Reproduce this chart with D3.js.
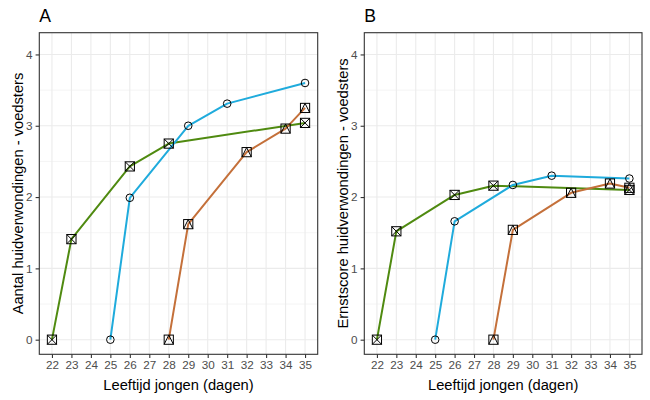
<!DOCTYPE html>
<html>
<head>
<meta charset="utf-8">
<script src="https://cdn.jsdelivr.net/npm/d3@7"></script>
<style>
  body { margin: 0; background: #fff; }
  svg { display: block; font-family: "Liberation Sans", Arial, sans-serif; }
</style>
</head>
<body>
<svg id="chart" width="650" height="400"></svg>
<script>
// ---- data ----
const xTicks = [22,23,24,25,26,27,28,29,30,31,32,33,34,35];
const yTicks = [0,1,2,3,4];
const panelTitles = ["A", "B"];
const yTitles = ["Aantal huidverwondingen - voedsters", "Ernstscore huidverwondingen - voedsters"];
const xTitle = "Leeftijd jongen (dagen)";

const greenDays  = [22,23,26,28,35];
const blueDays   = [25,26,29,31,35];
const orangeDays = [28,29,32,34,35];

const greenA  = [0, 1.41, 2.43, 2.75, 3.04];
const blueA   = [0, 1.99, 3.00, 3.31, 3.60];
const orangeA = [0, 1.62, 2.63, 2.96, 3.25];

const greenB  = [0, 1.52, 2.03, 2.16, 2.10];
const blueB   = [0, 1.66, 2.17, 2.30, 2.26];
const orangeB = [0, 1.54, 2.06, 2.19, 2.13];

const colors = { green: "#4f8a10", blue: "#1fabdc", orange: "#c4703a" };

const panels = [
  { title: panelTitles[0], yTitle: yTitles[0], left: 39.3, right: 317.7,
    series: [
      { key: "green", shape: "cross", days: greenDays, vals: greenA },
      { key: "blue", shape: "circle", days: blueDays, vals: blueA },
      { key: "orange", shape: "tri", days: orangeDays, vals: orangeA } ] },
  { title: panelTitles[1], yTitle: yTitles[1], left: 364.3, right: 642,
    series: [
      { key: "green", shape: "cross", days: greenDays, vals: greenB },
      { key: "blue", shape: "circle", days: blueDays, vals: blueB },
      { key: "orange", shape: "tri", days: orangeDays, vals: orangeB } ] }
];

const plotTop = 32.7, plotBottom = 354.3;
const svg = d3.select("#chart");

panels.forEach(p => {
  const x = d3.scaleLinear().domain([21.35, 35.65]).range([p.left, p.right]);
  const y = d3.scaleLinear().domain([-0.205, 4.305]).range([plotBottom, plotTop]);
  const g = svg.append("g");

  // grid
  const minorY = d3.range(0.5, 4.01, 1);
  g.selectAll(".ymin").data(minorY).enter().append("line")
    .attr("x1", p.left).attr("x2", p.right)
    .attr("y1", d => y(d)).attr("y2", d => y(d))
    .attr("stroke", "#ebebeb").attr("stroke-width", 0.55);
  g.selectAll(".ymaj").data(yTicks).enter().append("line")
    .attr("x1", p.left).attr("x2", p.right)
    .attr("y1", d => y(d)).attr("y2", d => y(d))
    .attr("stroke", "#ebebeb").attr("stroke-width", 1.1);
  g.selectAll(".xmaj").data(xTicks).enter().append("line")
    .attr("y1", plotTop).attr("y2", plotBottom)
    .attr("x1", d => x(d)).attr("x2", d => x(d))
    .attr("stroke", "#ebebeb").attr("stroke-width", 1.1);

  // lines
  const line = d3.line().x(d => x(d[0])).y(d => y(d[1]));
  p.series.forEach(s => {
    const pts = s.days.map((d, i) => [d, s.vals[i]]);
    g.append("path").attr("d", line(pts))
      .attr("fill", "none").attr("stroke", colors[s.key])
      .attr("stroke-width", 2).attr("stroke-linejoin", "round");
  });

  // points
  const h = 4.6;
  p.series.forEach(s => {
    s.days.forEach((d, i) => {
      const cx = x(d), cy = y(s.vals[i]);
      const pg = g.append("g").attr("fill", "none").attr("stroke", "#000").attr("stroke-width", 1);
      if (s.shape === "circle") {
        pg.append("circle").attr("cx", cx).attr("cy", cy).attr("r", 3.8);
      } else {
        pg.append("rect").attr("x", cx - h).attr("y", cy - h).attr("width", 2 * h).attr("height", 2 * h);
        if (s.shape === "cross") {
          pg.append("path").attr("d", `M${cx - h},${cy - h}L${cx + h},${cy + h}M${cx - h},${cy + h}L${cx + h},${cy - h}`);
        } else {
          pg.append("path").attr("d", `M${cx - h},${cy + h}L${cx},${cy - h}L${cx + h},${cy + h}`);
        }
      }
    });
  });

  // border
  g.append("rect").attr("x", p.left).attr("y", plotTop)
    .attr("width", p.right - p.left).attr("height", plotBottom - plotTop)
    .attr("fill", "none").attr("stroke", "#333333").attr("stroke-width", 1.1);

  // axes
  const xAxis = d3.axisBottom(x).tickValues(xTicks).tickSize(3.7).tickPadding(3).tickFormat(d3.format("d"));
  const gx = g.append("g").attr("transform", `translate(0,${plotBottom})`).call(xAxis);
  gx.select(".domain").remove();
  gx.selectAll("line").attr("stroke", "#333333").attr("stroke-width", 1.1);
  gx.selectAll("text").attr("fill", "#4d4d4d").attr("font-size", "11.7px")
    .attr("font-family", "Liberation Sans, Arial, sans-serif");

  const yAxis = d3.axisLeft(y).tickValues(yTicks).tickSize(3.7).tickPadding(3).tickFormat(d3.format("d"));
  const gy = g.append("g").attr("transform", `translate(${p.left},0)`).call(yAxis);
  gy.select(".domain").remove();
  gy.selectAll("line").attr("stroke", "#333333").attr("stroke-width", 1.1);
  gy.selectAll("text").attr("fill", "#4d4d4d").attr("font-size", "11.7px")
    .attr("font-family", "Liberation Sans, Arial, sans-serif");

  // titles
  g.append("text").attr("x", p.left).attr("y", 21.7).text(p.title)
    .attr("font-size", "17.6px").attr("fill", "#000");
  g.append("text").attr("x", (p.left + p.right) / 2).attr("y", 390)
    .attr("text-anchor", "middle").attr("font-size", "14.7px").attr("fill", "#000").text(xTitle);
  const ty = (plotTop + plotBottom) / 2;
  const tx = p.left - 16;
  g.append("text").attr("transform", `translate(${tx},${ty}) rotate(-90)`)
    .attr("text-anchor", "middle").attr("font-size", "14.7px").attr("fill", "#000").text(p.yTitle);
});
</script>
</body>
</html>
